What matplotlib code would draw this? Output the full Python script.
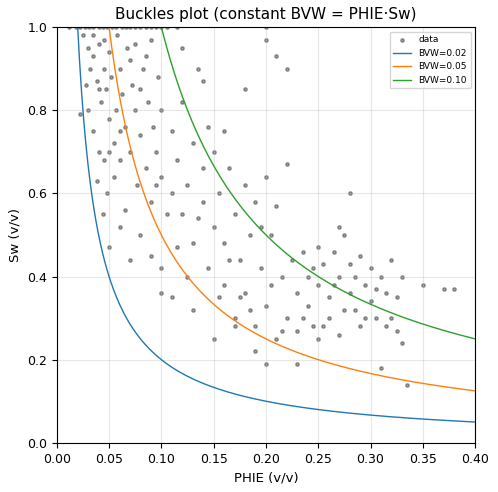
import numpy as np
import matplotlib
matplotlib.use("Agg")
import matplotlib.pyplot as plt

pts = [(0.012,1.0),(0.018,1.0),(0.022,1.0),(0.027,1.0),(0.031,1.0),(0.035,1.0),(0.04,1.0),(0.044,1.0),(0.048,1.0),(0.053,1.0),(0.057,1.0),(0.062,1.0),(0.066,1.0),(0.07,1.0),(0.075,1.0),(0.08,1.0),(0.085,1.0),(0.09,1.0),(0.095,1.0),(0.1,1.0),(0.105,1.0),(0.115,1.0),(0.2,1.0),
(0.025,0.98),(0.03,0.95),(0.032,0.9),(0.035,0.93),(0.038,0.87),(0.04,0.96),(0.042,0.82),(0.045,0.9),(0.047,0.85),(0.05,0.78),(0.05,0.94),(0.052,0.88),(0.055,0.72),(0.057,0.8),(0.06,0.9),(0.06,0.68),(0.062,0.84),(0.065,0.76),(0.067,0.95),(0.07,0.7),(0.072,0.86),(0.075,0.8),(0.077,0.62),(0.08,0.74),(0.082,0.9),(0.085,0.66),(0.087,0.82),(0.09,0.58),(0.092,0.76),(0.095,0.7),(0.097,0.88),(0.1,0.64),(0.1,0.8),(0.03,0.8),(0.035,0.75),(0.04,0.7),(0.045,0.68),(0.048,0.6),(0.028,0.86),(0.022,0.79),(0.038,0.63),(0.05,0.47),(0.044,0.55),(0.06,0.52),(0.07,0.44),(0.065,0.56),(0.055,0.64),(0.08,0.5),(0.09,0.45),(0.1,0.36),(0.11,0.6),(0.11,0.75),(0.115,0.68),(0.12,0.55),(0.12,0.82),(0.125,0.62),(0.13,0.72),(0.13,0.48),(0.135,0.9),(0.14,0.58),(0.14,0.66),(0.145,0.42),(0.15,0.7),(0.15,0.52),(0.155,0.6),(0.16,0.38),(0.16,0.48),(0.165,0.66),(0.17,0.55),(0.17,0.3),(0.175,0.44),(0.18,0.62),(0.18,0.36),(0.185,0.5),(0.19,0.58),(0.19,0.28),(0.195,0.42),(0.2,0.64),(0.2,0.33),(0.205,0.5),(0.21,0.57),(0.21,0.25),(0.215,0.4),(0.22,0.9),(0.22,0.3),(0.225,0.44),(0.23,0.36),(0.23,0.27),(0.235,0.46),(0.24,0.4),(0.24,0.33),(0.245,0.28),(0.25,0.47),(0.25,0.38),(0.255,0.43),(0.26,0.35),(0.26,0.3),(0.265,0.46),(0.27,0.4),(0.27,0.26),(0.275,0.5),(0.28,0.36),(0.28,0.43),(0.285,0.32),(0.29,0.45),(0.29,0.28),(0.295,0.38),(0.3,0.34),(0.3,0.42),(0.305,0.3),(0.31,0.4),(0.31,0.18),(0.315,0.36),(0.32,0.3),(0.32,0.44),(0.325,0.27),(0.33,0.4),(0.33,0.24),(0.335,0.14),(0.37,0.37),(0.38,0.37),(0.35,0.38),(0.27,0.52),(0.28,0.6),(0.22,0.67),(0.2,0.97),(0.21,0.93),(0.18,0.85),(0.16,0.75),(0.14,0.87),(0.125,0.4),(0.1,0.42),(0.11,0.35),(0.13,0.32),(0.15,0.25),(0.17,0.28),(0.19,0.22),(0.2,0.19),(0.23,0.19),(0.25,0.25),(0.12,0.95),(0.09,0.97),(0.08,0.85),(0.07,0.92),(0.06,0.75),(0.05,0.7),(0.04,0.85),(0.045,0.97),(0.035,0.98),(0.058,0.98),(0.075,0.96),(0.085,0.93),(0.095,0.62),(0.105,0.55),(0.115,0.47),(0.135,0.54),(0.145,0.76),(0.155,0.35),(0.165,0.44),(0.175,0.35),(0.185,0.32),(0.195,0.52),(0.205,0.38),(0.215,0.27),(0.235,0.3),(0.245,0.42),(0.255,0.28),(0.265,0.38),(0.275,0.32),(0.285,0.4),(0.295,0.3),(0.305,0.37),(0.315,0.28),(0.325,0.35)]
phie = [p[0] for p in pts]
sw = [p[1] for p in pts]
bvw_values = [0.02, 0.05, 0.10]

fig, ax = plt.subplots(figsize=(4.98, 4.92), dpi=100)
fig.subplots_adjust(left=0.114, right=0.954, top=0.945, bottom=0.1)
ax.scatter(phie, sw, s=6, c="k", alpha=0.35, label="data")
x = np.linspace(0.005, 0.4, 400)
for b in bvw_values:
    ax.plot(x, b / x, lw=1, label=f"BVW={b:.2f}")
ax.set_xlim(0, 0.4)
ax.set_ylim(0, 1)
ax.tick_params(labelsize=9)
ax.set_xlabel("PHIE (v/v)", fontsize=9.5)
ax.set_ylabel("Sw (v/v)", fontsize=9.5)
ax.set_title("Buckles plot (constant BVW = PHIE·Sw)", fontsize=11)
ax.grid(True, alpha=0.3)
ax.legend(fontsize=6.5, loc="upper right")
fig.savefig("out.png", dpi=100)
